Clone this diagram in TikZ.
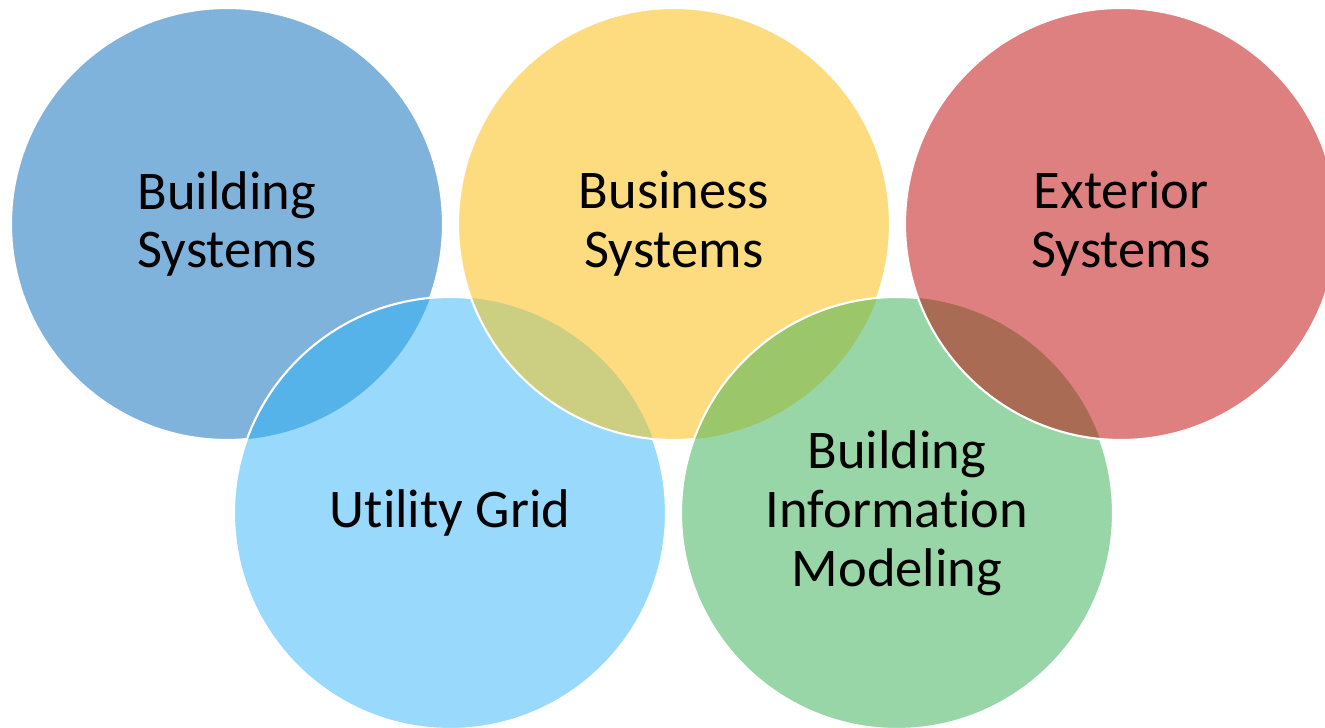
\documentclass[tikz,border=0pt]{standalone}
\usepackage{fontspec}
\setmainfont[Ligatures=NoCommon]{Carlito}
\usepackage{tikz}

\definecolor{bldblue}{RGB}{127,179,220}
\definecolor{gridblue}{RGB}{153,217,251}
\definecolor{busyellow}{RGB}{253,220,128}
\definecolor{bimgreen}{RGB}{153,214,167}
\definecolor{extred}{RGB}{222,128,127}
\definecolor{lensblue}{RGB}{86,179,233}
\definecolor{lensolive}{RGB}{204,206,130}
\definecolor{lensgreen}{RGB}{155,198,106}
\definecolor{lensbrown}{RGB}{170,107,84}

\begin{document}
\begin{tikzpicture}[ring/.style={draw=white, line width=1.2pt},
		lbl/.style={font=\fontsize{31}{33.5}\selectfont, align=center, text=black}]
		\useasboundingbox (0, 0) rectangle (26.5, 14.56);
		\clip (0, 0) rectangle (26.5, 14.56);
		
		\coordinate (bs) at (4.54, 10.08);
		\coordinate (ug) at (9.00, 4.30);
		\coordinate (us) at (13.48, 10.08);
		\coordinate (bim) at (17.94, 4.30);
		\coordinate (es) at (22.42, 10.08);
		
		% building systems
		\fill[bldblue] (bs) circle (4.32);
		\draw[ring] (bs) circle (4.32);
		
		% utility grid
		\fill[gridblue] (ug) circle (4.32);
		\begin{scope}
			\clip (bs) circle (4.32);
			\fill[lensblue] (ug) circle (4.32);
		\end{scope}
		\draw[ring] (ug) circle (4.32);
		
		% business systems
		\fill[busyellow] (us) circle (4.32);
		\begin{scope}
			\clip (ug) circle (4.32);
			\fill[lensolive] (us) circle (4.32);
		\end{scope}
		\draw[ring] (us) circle (4.32);
		
		% building information modeling
		\fill[bimgreen] (bim) circle (4.32);
		\begin{scope}
			\clip (us) circle (4.32);
			\fill[lensgreen] (bim) circle (4.32);
		\end{scope}
		\draw[ring] (bim) circle (4.32);
		
		% exterior systems
		\fill[extred] (es) circle (4.32);
		\begin{scope}
			\clip (bim) circle (4.32);
			\fill[lensbrown] (es) circle (4.32);
		\end{scope}
		\draw[ring] (es) circle (4.32);
		
		\node[lbl] (bstext) at (bs) {Building\\Systems};
		\node[lbl] (ugtext) at (ug) {Utility Grid};
		\node[lbl] (ustext) at (us) {Business\\Systems};
		\node[lbl] (bimtext) at (bim) {Building\\Information\\Modeling};
		\node[lbl] (estext) at (es) {Exterior\\Systems};
	\end{tikzpicture}
\end{document}
